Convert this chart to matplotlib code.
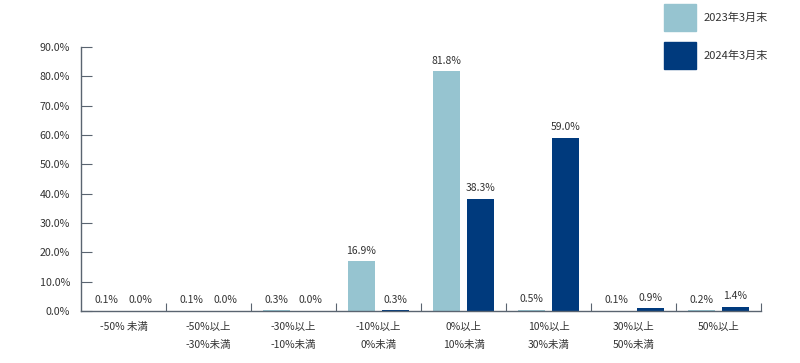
import matplotlib.pyplot as plt
import numpy as np
from matplotlib.patches import Patch

plt.rcParams['font.family'] = ['Noto Sans CJK JP', 'DejaVu Sans']

categories = ['-50% 未満', '-50%以上\n-30%未満', '-30%以上\n-10%未満', '-10%以上\n0%未満',
              '0%以上\n10%未満', '10%以上\n30%未満', '30%以上\n50%未満', '50%以上']
series_names = ['2023年3月末', '2024年3月末']
v2023 = [0.1, 0.1, 0.3, 16.9, 81.8, 0.5, 0.1, 0.2]
v2024 = [0.0, 0.0, 0.0, 0.3, 38.3, 59.0, 0.9, 1.4]
yticks = [0, 10, 20, 30, 40, 50, 60, 70, 80, 90]

c_light = '#96C4D0'
c_dark = '#003A7D'
axc = '#5a6470'
txt = '#333333'

fig = plt.figure(figsize=(8, 3.63), dpi=100)
ax = fig.add_axes([0.10125, 0.1433, 0.85, 0.7272])

x = np.arange(len(categories))
w = 0.32
b1 = ax.bar(x - 0.2, v2023, w, color=c_light)
b2 = ax.bar(x + 0.2, v2024, w, color=c_dark)

for bars, vals in ((b1, v2023), (b2, v2024)):
    for r, v in zip(bars, vals):
        ax.annotate(f'{v:.1f}%', (r.get_x() + r.get_width() / 2, v),
                    xytext=(0, 4), textcoords='offset points',
                    ha='center', va='bottom', fontsize=7.5, color=txt)

ax.set_xlim(-0.5, len(categories) - 0.5)
ax.set_ylim(0, 90)
ax.set_yticks(yticks)
ax.set_yticklabels([f'{t:.1f}%' for t in yticks])
ax.set_xticks(x + 0.5, minor=False)
ax.set_xticklabels([])
ax.set_xticks(x, minor=True)
ax.set_xticklabels(categories, minor=True, linespacing=2.0)

for s in ['top', 'right']:
    ax.spines[s].set_visible(False)
for s in ['left', 'bottom']:
    ax.spines[s].set_color(axc)
    ax.spines[s].set_linewidth(1.0)

ax.tick_params(axis='y', direction='in', length=8, color=axc, labelsize=7.7,
               labelcolor=txt, pad=8)
ax.tick_params(axis='x', which='major', direction='in', length=6, color=axc)
ax.tick_params(axis='x', which='minor', length=0, labelsize=7.5, labelcolor=txt, pad=8)

handles = [Patch(color=c_light), Patch(color=c_dark)]
fig.legend(handles, series_names, loc='upper left', bbox_to_anchor=(0.8245, 1.0),
           frameon=False, fontsize=8, handlelength=2.9, handleheight=3.35,
           labelspacing=0.95, handletextpad=0.7, borderaxespad=0.0,
           labelcolor=txt)

fig.savefig('out.png', dpi=100)
